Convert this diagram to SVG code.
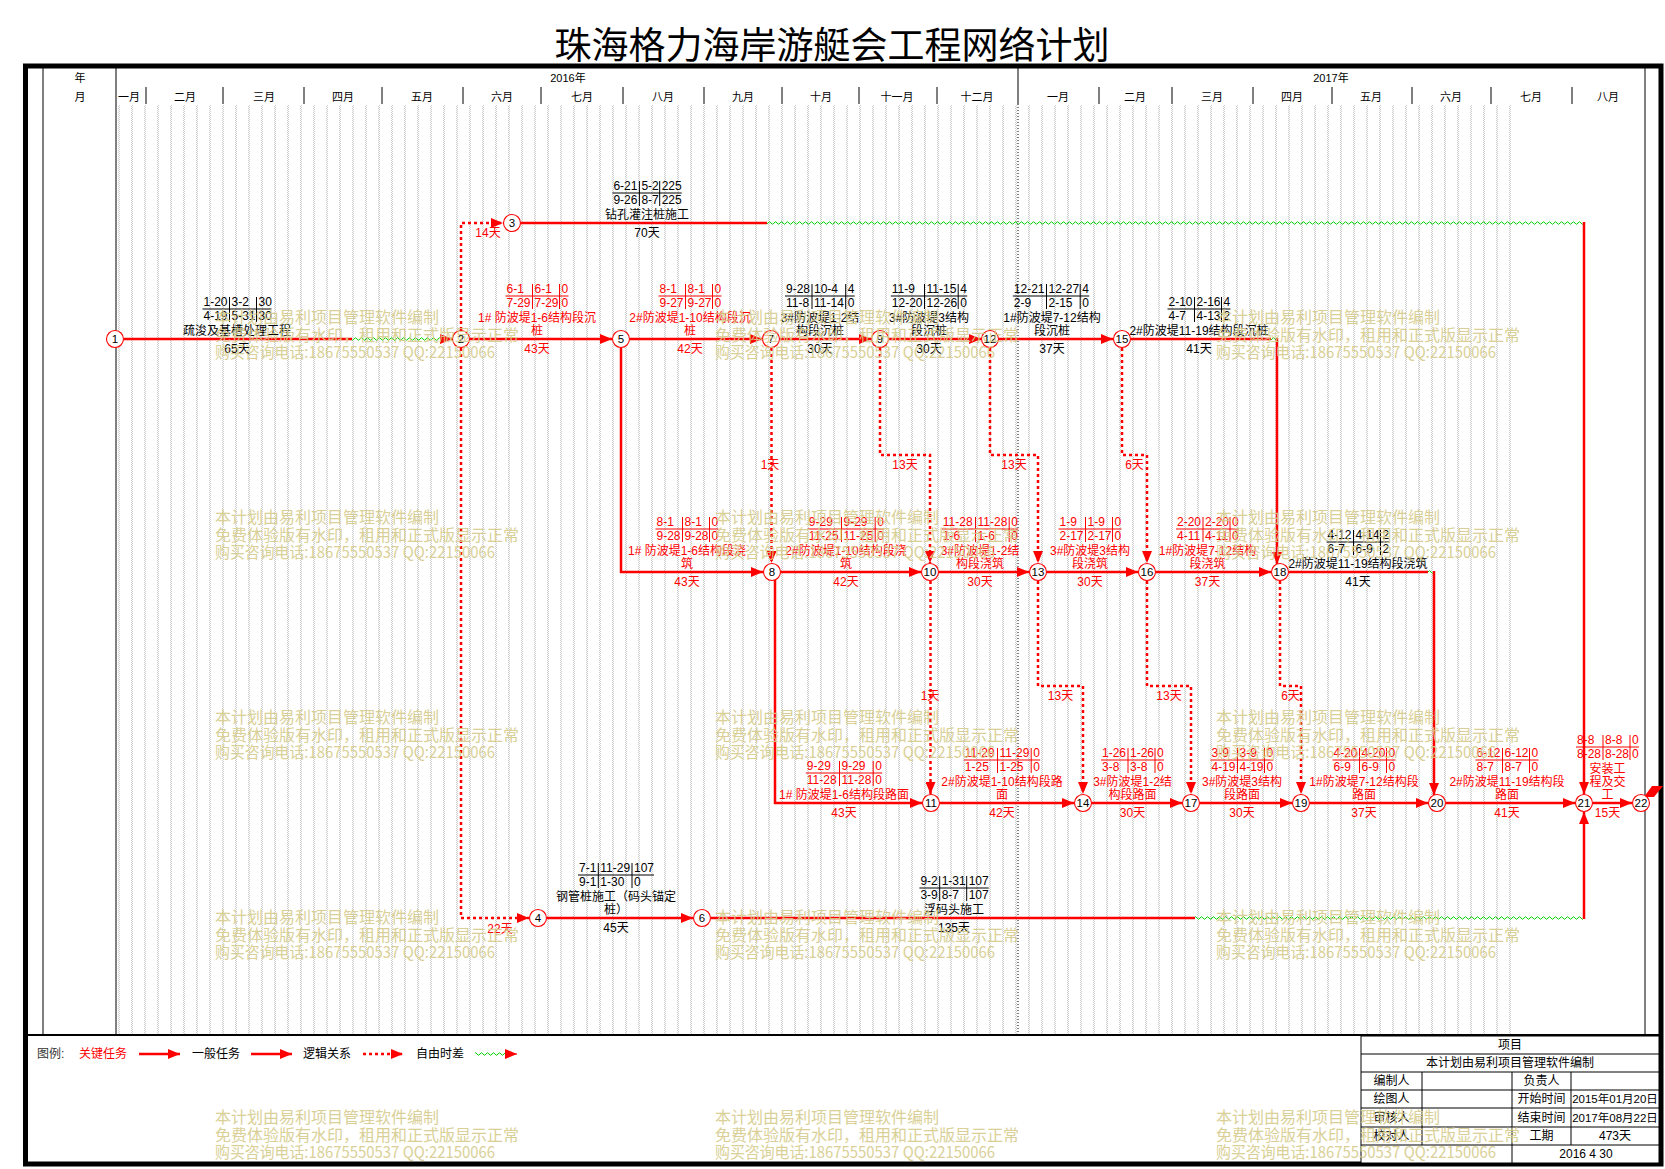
<svg xmlns="http://www.w3.org/2000/svg" width="1665" height="1169" viewBox="0 0 1665 1169">
<style>
text{font-family:"Liberation Sans","Noto Sans CJK SC",sans-serif;font-size:12px;dominant-baseline:central}
.m{text-anchor:middle}
.k text{fill:#000}.k path{stroke:#000}
.r text{fill:#f00}.r path{stroke:#f00}
.tb{fill:none;stroke-width:1}
.e{fill:none;stroke:#f00;stroke-width:2.5}
.d{fill:none;stroke:#f00;stroke-width:2.5;stroke-dasharray:3 3}
.a{marker-end:url(#ah)}
.nd circle{fill:#fff;stroke:#f00;stroke-width:1.1}
.nd text{text-anchor:middle;font-size:11.5px;fill:#000}
.hd text{font-size:11px;fill:#000;text-anchor:middle}
.wm text{font-family:"Noto Sans CJK SC",sans-serif;font-size:16px;fill:#D6CC8C;opacity:.9}
.ln{stroke:#000;fill:none}
</style>
<defs>
<marker id="ah" markerUnits="userSpaceOnUse" markerWidth="12" markerHeight="10" refX="12" refY="5" orient="auto"><path d="M0,0L12,5L0,10z" fill="#f00"/></marker>
<pattern id="st" patternUnits="userSpaceOnUse" x="118" y="0" width="13" height="2"><rect x="0" y="0" width="1" height="1" fill="#cdcdcd"/><rect x="1" y="1" width="1" height="1" fill="#cdcdcd"/></pattern>
<pattern id="wv" patternUnits="userSpaceOnUse" x="0" y="0" width="6" height="6"><path d="M0,3Q1.5,0.5 3,3T6,3" fill="none" stroke="#00d000" stroke-width="1"/></pattern>
</defs>
<rect width="1665" height="1169" fill="#fff"/>
<text x="832" y="43" class="m" style="font-family:'Noto Sans CJK SC',sans-serif;font-size:37px">珠海格力海岸游艇会工程网络计划</text>
<rect x="118" y="105" width="1397" height="929" fill="url(#st)"/>
<g id="frame">
<rect x="25.5" y="66" width="1635.5" height="1098" fill="none" stroke="#000" stroke-width="5"/>
<path class="ln" d="M43,66V1035M116,66V1035M1645,66V1035M1018,66V104" stroke-width="1"/>
<path class="ln" d="M1018,104V1035" stroke-dasharray="1 2"/>
<path class="ln" d="M25,1035H1661" stroke-width="2"/>
<path class="ln" d="M146,87V104M223,87V104M304,87V104M382,87V104M463,87V104M541,87V104M623,87V104M704,87V104M782,87V104M859,87V104M937,87V104M1099,87V104M1172,87V104M1253,87V104M1332,87V104M1412,87V104M1491,87V104M1572,87V104"/>
</g>
<g class="hd">
<text x="80" y="78">年</text><text x="80" y="97">月</text>
<text x="568" y="78">2016年</text><text x="1331" y="78">2017年</text>
<text x="129" y="97">一月</text><text x="185" y="97">二月</text><text x="264" y="97">三月</text><text x="343" y="97">四月</text><text x="422" y="97">五月</text><text x="502" y="97">六月</text><text x="582" y="97">七月</text><text x="663" y="97">八月</text><text x="743" y="97">九月</text><text x="821" y="97">十月</text><text x="897" y="97">十一月</text><text x="977" y="97">十二月</text><text x="1058" y="97">一月</text><text x="1135" y="97">二月</text><text x="1212" y="97">三月</text><text x="1292" y="97">四月</text><text x="1371" y="97">五月</text><text x="1451" y="97">六月</text><text x="1531" y="97">七月</text><text x="1608" y="97">八月</text>
</g>
<g id="connectors">
<path class="e" d="M124,339H352"/>
<rect transform="translate(0,336)" x="352" y="0" width="90" height="6" fill="url(#wv)"/>
<path class="e a" d="M440,339H452"/>
<path class="e a" d="M470,339H612"/>
<path class="d a" d="M461,330V223H503"/>
<path class="d a" d="M461,348V918H529"/>
<path class="e" d="M521,223H767"/>
<rect transform="translate(0,220)" x="767" y="0" width="817" height="6" fill="url(#wv)"/>
<path class="e a" d="M1584,222V794"/>
<path class="e a" d="M547,918H693"/>
<path class="e" d="M711,918H1195"/>
<rect transform="translate(0,915)" x="1195" y="0" width="389" height="6" fill="url(#wv)"/>
<path class="e a" d="M1584,919V812"/>
<path class="e a" d="M630,339H762"/>
<path class="e a" d="M621,348V572H763"/>
<path class="e a" d="M780,339H871"/>
<path class="d a" d="M771.5,348V563"/>
<path class="e a" d="M889,339H981"/>
<path class="d a" d="M880,348V455H930V563"/>
<path class="e a" d="M999,339H1113"/>
<path class="d a" d="M990,348V455H1038V563"/>
<path class="e" d="M1131,339H1271"/>
<rect transform="translate(0,336)" x="1271" y="0" width="6" height="6" fill="url(#wv)"/>
<path class="e a" d="M1277,338V564"/>
<path class="d a" d="M1122,348V455H1147V563"/>
<path class="e a" d="M781,572H921"/>
<path class="e a" d="M775,580V803H922"/>
<path class="e a" d="M939,572H1029"/>
<path class="d a" d="M930.5,581V794"/>
<path class="e a" d="M1047,572H1138"/>
<path class="d a" d="M1038,581V686H1083V794"/>
<path class="e a" d="M1156,572H1271"/>
<path class="d a" d="M1147,581V686H1191V794"/>
<path class="e" d="M1289,572H1428"/>
<rect transform="translate(0,569)" x="1428" y="0" width="6" height="6" fill="url(#wv)"/>
<path class="e a" d="M1434,571V795"/>
<path class="d a" d="M1280,581V686H1301V794"/>
<path class="e a" d="M940,803H1074"/>
<path class="e a" d="M1092,803H1182"/>
<path class="e a" d="M1200,803H1292"/>
<path class="e a" d="M1310,803H1428"/>
<path class="e a" d="M1446,803H1575"/>
<path class="e a" d="M1593,803H1632"/>
<path d="M1641,803L1648,796" stroke="#f00" stroke-width="1.5"/>
<polygon points="1652,786 1663,786 1654,797 1644,797" fill="#f00"/>
</g>
<g id="nodes">
<g id="node1" class="nd"><circle cx="115" cy="339" r="8.5"/><text x="115" y="339">1</text></g>
<g id="node2" class="nd"><circle cx="461" cy="339" r="8.5"/><text x="461" y="339">2</text></g>
<g id="node3" class="nd"><circle cx="512" cy="223" r="8.5"/><text x="512" y="223">3</text></g>
<g id="node4" class="nd"><circle cx="538" cy="918" r="8.5"/><text x="538" y="918">4</text></g>
<g id="node5" class="nd"><circle cx="621" cy="339" r="8.5"/><text x="621" y="339">5</text></g>
<g id="node6" class="nd"><circle cx="702" cy="918" r="8.5"/><text x="702" y="918">6</text></g>
<g id="node7" class="nd"><circle cx="771" cy="339" r="8.5"/><text x="771" y="339">7</text></g>
<g id="node8" class="nd"><circle cx="772" cy="572" r="8.5"/><text x="772" y="572">8</text></g>
<g id="node9" class="nd"><circle cx="880" cy="339" r="8.5"/><text x="880" y="339">9</text></g>
<g id="node10" class="nd"><circle cx="930" cy="572" r="8.5"/><text x="930" y="572">10</text></g>
<g id="node11" class="nd"><circle cx="931" cy="803" r="8.5"/><text x="931" y="803">11</text></g>
<g id="node12" class="nd"><circle cx="990" cy="339" r="8.5"/><text x="990" y="339">12</text></g>
<g id="node13" class="nd"><circle cx="1038" cy="572" r="8.5"/><text x="1038" y="572">13</text></g>
<g id="node14" class="nd"><circle cx="1083" cy="803" r="8.5"/><text x="1083" y="803">14</text></g>
<g id="node15" class="nd"><circle cx="1122" cy="339" r="8.5"/><text x="1122" y="339">15</text></g>
<g id="node16" class="nd"><circle cx="1147" cy="572" r="8.5"/><text x="1147" y="572">16</text></g>
<g id="node17" class="nd"><circle cx="1191" cy="803" r="8.5"/><text x="1191" y="803">17</text></g>
<g id="node18" class="nd"><circle cx="1280" cy="572" r="8.5"/><text x="1280" y="572">18</text></g>
<g id="node19" class="nd"><circle cx="1301" cy="803" r="8.5"/><text x="1301" y="803">19</text></g>
<g id="node20" class="nd"><circle cx="1437" cy="803" r="8.5"/><text x="1437" y="803">20</text></g>
<g id="node21" class="nd"><circle cx="1584" cy="803" r="8.5"/><text x="1584" y="803">21</text></g>
<g id="node22" class="nd"><circle cx="1641" cy="803" r="8.5"/><text x="1641" y="803">22</text></g>
</g>
<g id="labels">
<g class="k"><path class="tb" d="M202.5,309H271.5M229.5,297V322M256.5,297V322"/>
<text x="203.5" y="302">1-20</text><text x="231.5" y="302">3-2</text><text x="258.5" y="302">30</text>
<text x="203.5" y="316">4-19</text><text x="231.5" y="316">5-31</text><text x="258.5" y="316">30</text>
<text class="m" x="237" y="331">疏浚及基槽处理工程</text><text class="m" x="237" y="349">65天</text></g>
<g class="r"><path class="tb" d="M505.5,296H568.5M532.5,284V309M559.5,284V309"/>
<text x="506.5" y="289">6-1</text><text x="534.5" y="289">6-1</text><text x="561.5" y="289">0</text>
<text x="506.5" y="303">7-29</text><text x="534.5" y="303">7-29</text><text x="561.5" y="303">0</text>
<text class="m" x="537" y="318">1# 防波堤1-6结构段沉</text><text class="m" x="537" y="331">桩</text><text class="m" x="537" y="349">43天</text></g>
<g class="r"><path class="tb" d="M658.5,296H721.5M685.5,284V309M712.5,284V309"/>
<text x="659.5" y="289">8-1</text><text x="687.5" y="289">8-1</text><text x="714.5" y="289">0</text>
<text x="659.5" y="303">9-27</text><text x="687.5" y="303">9-27</text><text x="714.5" y="303">0</text>
<text class="m" x="690" y="318">2#防波堤1-10结构段沉</text><text class="m" x="690" y="331">桩</text><text class="m" x="690" y="349">42天</text></g>
<g class="k"><path class="tb" d="M785,296H854.7M812,284V309M845.7,284V309"/>
<text x="786" y="289">9-28</text><text x="814" y="289">10-4</text><text x="847.7" y="289">4</text>
<text x="786" y="303">11-8</text><text x="814" y="303">11-14</text><text x="847.7" y="303">0</text>
<text class="m" x="820" y="318">3#防波堤1-2结</text><text class="m" x="820" y="331">构段沉桩</text><text class="m" x="820" y="349">30天</text></g>
<g class="k"><path class="tb" d="M890.8,296H967.2M924.5,284V309M958.2,284V309"/>
<text x="891.8" y="289">11-9</text><text x="926.5" y="289">11-15</text><text x="960.2" y="289">4</text>
<text x="891.8" y="303">12-20</text><text x="926.5" y="303">12-26</text><text x="960.2" y="303">0</text>
<text class="m" x="929" y="318">3#防波堤3结构</text><text class="m" x="929" y="331">段沉桩</text><text class="m" x="929" y="349">30天</text></g>
<g class="k"><path class="tb" d="M1012.8,296H1089.2M1046.5,284V309M1080.2,284V309"/>
<text x="1013.8" y="289">12-21</text><text x="1048.5" y="289">12-27</text><text x="1082.2" y="289">4</text>
<text x="1013.8" y="303">2-9</text><text x="1048.5" y="303">2-15</text><text x="1082.2" y="303">0</text>
<text class="m" x="1052" y="318">1#防波堤7-12结构</text><text class="m" x="1052" y="331">段沉桩</text><text class="m" x="1052" y="349">37天</text></g>
<g class="k"><path class="tb" d="M1167.5,309H1230.5M1194.5,297V322M1221.5,297V322"/>
<text x="1168.5" y="302">2-10</text><text x="1196.5" y="302">2-16</text><text x="1223.5" y="302">4</text>
<text x="1168.5" y="316">4-7</text><text x="1196.5" y="316">4-13</text><text x="1223.5" y="316">2</text>
<text class="m" x="1199" y="331">2#防波堤11-19结构段沉桩</text><text class="m" x="1199" y="349">41天</text></g>
<g class="k"><path class="tb" d="M612.4,193H681.7M639.4,181V206M659.7,181V206"/>
<text x="613.4" y="186">6-21</text><text x="641.4" y="186">5-2</text><text x="661.7" y="186">225</text>
<text x="613.4" y="200">9-26</text><text x="641.4" y="200">8-7</text><text x="661.7" y="200">225</text>
<text class="m" x="647" y="215">钻孔灌注桩施工</text><text class="m" x="647" y="233">70天</text></g>
<g class="r"><path class="tb" d="M655.5,529H718.5M682.5,517V542M709.5,517V542"/>
<text x="656.5" y="522">8-1</text><text x="684.5" y="522">8-1</text><text x="711.5" y="522">0</text>
<text x="656.5" y="536">9-28</text><text x="684.5" y="536">9-28</text><text x="711.5" y="536">0</text>
<text class="m" x="687" y="551">1# 防波堤1-6结构段浇</text><text class="m" x="687" y="564">筑</text><text class="m" x="687" y="582">43天</text></g>
<g class="r"><path class="tb" d="M807.8,529H884.2M841.5,517V542M875.2,517V542"/>
<text x="808.8" y="522">9-29</text><text x="843.5" y="522">9-29</text><text x="877.2" y="522">0</text>
<text x="808.8" y="536">11-25</text><text x="843.5" y="536">11-25</text><text x="877.2" y="536">0</text>
<text class="m" x="846" y="551">2#防波堤1-10结构段浇</text><text class="m" x="846" y="564">筑</text><text class="m" x="846" y="582">42天</text></g>
<g class="r"><path class="tb" d="M941.8,529H1018.2M975.5,517V542M1009.2,517V542"/>
<text x="942.8" y="522">11-28</text><text x="977.5" y="522">11-28</text><text x="1011.2" y="522">0</text>
<text x="942.8" y="536">1-6</text><text x="977.5" y="536">1-6</text><text x="1011.2" y="536">0</text>
<text class="m" x="980" y="551">3#防波堤1-2结</text><text class="m" x="980" y="564">构段浇筑</text><text class="m" x="980" y="582">30天</text></g>
<g class="r"><path class="tb" d="M1058.5,529H1121.5M1085.5,517V542M1112.5,517V542"/>
<text x="1059.5" y="522">1-9</text><text x="1087.5" y="522">1-9</text><text x="1114.5" y="522">0</text>
<text x="1059.5" y="536">2-17</text><text x="1087.5" y="536">2-17</text><text x="1114.5" y="536">0</text>
<text class="m" x="1090" y="551">3#防波堤3结构</text><text class="m" x="1090" y="564">段浇筑</text><text class="m" x="1090" y="582">30天</text></g>
<g class="r"><path class="tb" d="M1176,529H1239M1203,517V542M1230,517V542"/>
<text x="1177" y="522">2-20</text><text x="1205" y="522">2-20</text><text x="1232" y="522">0</text>
<text x="1177" y="536">4-11</text><text x="1205" y="536">4-11</text><text x="1232" y="536">0</text>
<text class="m" x="1207.5" y="551">1#防波堤7-12结构</text><text class="m" x="1207.5" y="564">段浇筑</text><text class="m" x="1207.5" y="582">37天</text></g>
<g class="k"><path class="tb" d="M1326.5,542H1389.5M1353.5,530V555M1380.5,530V555"/>
<text x="1327.5" y="535">4-12</text><text x="1355.5" y="535">4-14</text><text x="1382.5" y="535">2</text>
<text x="1327.5" y="549">6-7</text><text x="1355.5" y="549">6-9</text><text x="1382.5" y="549">2</text>
<text class="m" x="1358" y="564">2#防波堤11-19结构段浇筑</text><text class="m" x="1358" y="582">41天</text></g>
<g class="r"><path class="tb" d="M805.8,773H882.2M839.5,761V786M873.2,761V786"/>
<text x="806.8" y="766">9-29</text><text x="841.5" y="766">9-29</text><text x="875.2" y="766">0</text>
<text x="806.8" y="780">11-28</text><text x="841.5" y="780">11-28</text><text x="875.2" y="780">0</text>
<text class="m" x="844" y="795">1# 防波堤1-6结构段路面</text><text class="m" x="844" y="813">43天</text></g>
<g class="r"><path class="tb" d="M963.8,760H1040.2M997.5,748V773M1031.2,748V773"/>
<text x="964.8" y="753">11-29</text><text x="999.5" y="753">11-29</text><text x="1033.2" y="753">0</text>
<text x="964.8" y="767">1-25</text><text x="999.5" y="767">1-25</text><text x="1033.2" y="767">0</text>
<text class="m" x="1002" y="782">2#防波堤1-10结构段路</text><text class="m" x="1002" y="795">面</text><text class="m" x="1002" y="813">42天</text></g>
<g class="r"><path class="tb" d="M1101,760H1164M1128,748V773M1155,748V773"/>
<text x="1102" y="753">1-26</text><text x="1130" y="753">1-26</text><text x="1157" y="753">0</text>
<text x="1102" y="767">3-8</text><text x="1130" y="767">3-8</text><text x="1157" y="767">0</text>
<text class="m" x="1132.5" y="782">3#防波堤1-2结</text><text class="m" x="1132.5" y="795">构段路面</text><text class="m" x="1132.5" y="813">30天</text></g>
<g class="r"><path class="tb" d="M1210.5,760H1273.5M1237.5,748V773M1264.5,748V773"/>
<text x="1211.5" y="753">3-9</text><text x="1239.5" y="753">3-9</text><text x="1266.5" y="753">0</text>
<text x="1211.5" y="767">4-19</text><text x="1239.5" y="767">4-19</text><text x="1266.5" y="767">0</text>
<text class="m" x="1242" y="782">3#防波堤3结构</text><text class="m" x="1242" y="795">段路面</text><text class="m" x="1242" y="813">30天</text></g>
<g class="r"><path class="tb" d="M1332.5,760H1395.5M1359.5,748V773M1386.5,748V773"/>
<text x="1333.5" y="753">4-20</text><text x="1361.5" y="753">4-20</text><text x="1388.5" y="753">0</text>
<text x="1333.5" y="767">6-9</text><text x="1361.5" y="767">6-9</text><text x="1388.5" y="767">0</text>
<text class="m" x="1364" y="782">1#防波堤7-12结构段</text><text class="m" x="1364" y="795">路面</text><text class="m" x="1364" y="813">37天</text></g>
<g class="r"><path class="tb" d="M1475.5,760H1538.5M1502.5,748V773M1529.5,748V773"/>
<text x="1476.5" y="753">6-12</text><text x="1504.5" y="753">6-12</text><text x="1531.5" y="753">0</text>
<text x="1476.5" y="767">8-7</text><text x="1504.5" y="767">8-7</text><text x="1531.5" y="767">0</text>
<text class="m" x="1507" y="782">2#防波堤11-19结构段</text><text class="m" x="1507" y="795">路面</text><text class="m" x="1507" y="813">41天</text></g>
<g class="r"><path class="tb" d="M1576,747H1639M1603,735V760M1630,735V760"/>
<text x="1577" y="740">8-8</text><text x="1605" y="740">8-8</text><text x="1632" y="740">0</text>
<text x="1577" y="754">8-28</text><text x="1605" y="754">8-28</text><text x="1632" y="754">0</text>
<text class="m" x="1607.5" y="769">安装工</text><text class="m" x="1607.5" y="782">程及交</text><text class="m" x="1607.5" y="795">工</text><text class="m" x="1607.5" y="813">15天</text></g>
<g class="k"><path class="tb" d="M578,875H654M598.3,863V888M632,863V888"/>
<text x="579" y="868">7-1</text><text x="600.3" y="868">11-29</text><text x="634" y="868">107</text>
<text x="579" y="882">9-1</text><text x="600.3" y="882">1-30</text><text x="634" y="882">0</text>
<text class="m" x="616" y="897">钢管桩施工（码头锚定</text><text class="m" x="616" y="910">桩）</text><text class="m" x="616" y="928">45天</text></g>
<g class="k"><path class="tb" d="M919.4,888H988.7M939.7,876V901M966.7,876V901"/>
<text x="920.4" y="881">9-2</text><text x="941.7" y="881">1-31</text><text x="968.7" y="881">107</text>
<text x="920.4" y="895">3-9</text><text x="941.7" y="895">8-7</text><text x="968.7" y="895">107</text>
<text class="m" x="954" y="910">浮码头施工</text><text class="m" x="954" y="928">135天</text></g>
<g class="r">
<text class="m" x="488" y="233">14天</text><text class="m" x="500" y="929">22天</text>
<text class="m" x="770" y="465">1天</text><text class="m" x="905" y="465">13天</text><text class="m" x="1014" y="465">13天</text><text class="m" x="1134.5" y="465">6天</text>
<text class="m" x="930" y="696">1天</text><text class="m" x="1060.5" y="696">13天</text><text class="m" x="1169" y="696">13天</text><text class="m" x="1290.5" y="696">6天</text>
</g>
</g>
<g id="legend">
<text x="37" y="1054" fill="#333">图例:</text>
<text x="79" y="1054" fill="#f00">关键任务</text>
<path class="e a" d="M139,1054H180"/>
<text x="192" y="1054">一般任务</text>
<path class="e a" d="M251,1054H292"/>
<text x="303" y="1054">逻辑关系</text>
<path class="d a" d="M363,1054H403"/>
<text x="416" y="1054">自由时差</text>
<rect transform="translate(0,1051)" x="475" y="0" width="32" height="6" fill="url(#wv)"/>
<path class="a" d="M505,1054H517" stroke="#f00" stroke-width="1"/>
</g>
<g id="infotable">
<rect x="1361" y="1036" width="298" height="127" fill="#fff" stroke="#000" stroke-width="1"/>
<path class="ln" d="M1361,1054H1659M1361,1072H1659M1361,1090H1659M1361,1108H1659M1361,1127H1659M1361,1145H1659M1422,1072V1145M1512,1072V1163M1571,1072V1145"/>
<text class="m" x="1510" y="1045">项目</text>
<text class="m" x="1510" y="1063">本计划由易利项目管理软件编制</text>
<text class="m" x="1391.5" y="1081">编制人</text><text class="m" x="1541.5" y="1081">负责人</text>
<text class="m" x="1391.5" y="1099">绘图人</text><text class="m" x="1541.5" y="1099">开始时间</text><text class="m" x="1615" y="1099" style="font-size:11.5px">2015年01月20日</text>
<text class="m" x="1391.5" y="1117.5">审核人</text><text class="m" x="1541.5" y="1117.5">结束时间</text><text class="m" x="1615" y="1117.5" style="font-size:11.5px">2017年08月22日</text>
<text class="m" x="1391.5" y="1136">校对人</text><text class="m" x="1541.5" y="1136">工期</text><text class="m" x="1615" y="1136">473天</text>
<text class="m" x="1586" y="1154">2016 4 30</text>
</g>
<g class="wm">
<text x="215" y="316">本计划由易利项目管理软件编制</text><text x="215" y="334">免费体验版有水印，租用和正式版显示正常</text><text x="215" y="351" textLength="280" lengthAdjust="spacingAndGlyphs">购买咨询电话:18675550537 QQ:22150066</text>
<text x="715" y="316">本计划由易利项目管理软件编制</text><text x="715" y="334">免费体验版有水印，租用和正式版显示正常</text><text x="715" y="351" textLength="280" lengthAdjust="spacingAndGlyphs">购买咨询电话:18675550537 QQ:22150066</text>
<text x="1216" y="316">本计划由易利项目管理软件编制</text><text x="1216" y="334">免费体验版有水印，租用和正式版显示正常</text><text x="1216" y="351" textLength="280" lengthAdjust="spacingAndGlyphs">购买咨询电话:18675550537 QQ:22150066</text>
<text x="215" y="516">本计划由易利项目管理软件编制</text><text x="215" y="534">免费体验版有水印，租用和正式版显示正常</text><text x="215" y="551" textLength="280" lengthAdjust="spacingAndGlyphs">购买咨询电话:18675550537 QQ:22150066</text>
<text x="715" y="516">本计划由易利项目管理软件编制</text><text x="715" y="534">免费体验版有水印，租用和正式版显示正常</text><text x="715" y="551" textLength="280" lengthAdjust="spacingAndGlyphs">购买咨询电话:18675550537 QQ:22150066</text>
<text x="1216" y="516">本计划由易利项目管理软件编制</text><text x="1216" y="534">免费体验版有水印，租用和正式版显示正常</text><text x="1216" y="551" textLength="280" lengthAdjust="spacingAndGlyphs">购买咨询电话:18675550537 QQ:22150066</text>
<text x="215" y="716">本计划由易利项目管理软件编制</text><text x="215" y="734">免费体验版有水印，租用和正式版显示正常</text><text x="215" y="751" textLength="280" lengthAdjust="spacingAndGlyphs">购买咨询电话:18675550537 QQ:22150066</text>
<text x="715" y="716">本计划由易利项目管理软件编制</text><text x="715" y="734">免费体验版有水印，租用和正式版显示正常</text><text x="715" y="751" textLength="280" lengthAdjust="spacingAndGlyphs">购买咨询电话:18675550537 QQ:22150066</text>
<text x="1216" y="716">本计划由易利项目管理软件编制</text><text x="1216" y="734">免费体验版有水印，租用和正式版显示正常</text><text x="1216" y="751" textLength="280" lengthAdjust="spacingAndGlyphs">购买咨询电话:18675550537 QQ:22150066</text>
<text x="215" y="916">本计划由易利项目管理软件编制</text><text x="215" y="934">免费体验版有水印，租用和正式版显示正常</text><text x="215" y="951" textLength="280" lengthAdjust="spacingAndGlyphs">购买咨询电话:18675550537 QQ:22150066</text>
<text x="715" y="916">本计划由易利项目管理软件编制</text><text x="715" y="934">免费体验版有水印，租用和正式版显示正常</text><text x="715" y="951" textLength="280" lengthAdjust="spacingAndGlyphs">购买咨询电话:18675550537 QQ:22150066</text>
<text x="1216" y="916">本计划由易利项目管理软件编制</text><text x="1216" y="934">免费体验版有水印，租用和正式版显示正常</text><text x="1216" y="951" textLength="280" lengthAdjust="spacingAndGlyphs">购买咨询电话:18675550537 QQ:22150066</text>
<text x="215" y="1116">本计划由易利项目管理软件编制</text><text x="215" y="1134">免费体验版有水印，租用和正式版显示正常</text><text x="215" y="1151" textLength="280" lengthAdjust="spacingAndGlyphs">购买咨询电话:18675550537 QQ:22150066</text>
<text x="715" y="1116">本计划由易利项目管理软件编制</text><text x="715" y="1134">免费体验版有水印，租用和正式版显示正常</text><text x="715" y="1151" textLength="280" lengthAdjust="spacingAndGlyphs">购买咨询电话:18675550537 QQ:22150066</text>
<text x="1216" y="1116">本计划由易利项目管理软件编制</text><text x="1216" y="1134">免费体验版有水印，租用和正式版显示正常</text><text x="1216" y="1151" textLength="280" lengthAdjust="spacingAndGlyphs">购买咨询电话:18675550537 QQ:22150066</text>
</g>
</svg>
